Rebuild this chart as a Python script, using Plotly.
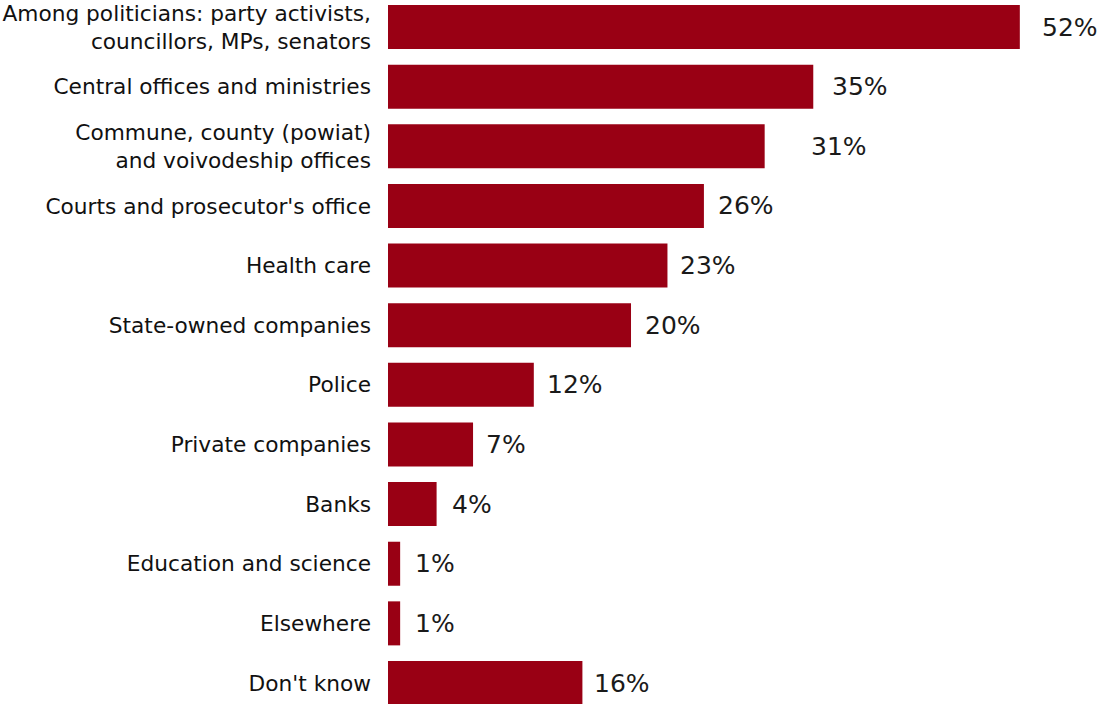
import plotly.graph_objects as go

categories = [
    "Among politicians: party activists,<br>councillors, MPs, senators",
    "Central offices and ministries",
    "Commune, county (powiat)<br>and voivodeship offices",
    "Courts and prosecutor's office",
    "Health care",
    "State-owned companies",
    "Police",
    "Private companies",
    "Banks",
    "Education and science",
    "Elsewhere",
    "Don't know",
]
values = [52, 35, 31, 26, 23, 20, 12, 7, 4, 1, 1, 16]
value_labels = [f"{v}%" for v in values]

# pixel offsets of value labels from bar ends (style)
label_shift = [20, 17, 44, 12, 11, 12, 11, 11, 13, 13, 13, 10]

BAR_COLOR = "#990014"
FONT = "DejaVu Sans, Liberation Sans, Arial, sans-serif"

fig = go.Figure(
    go.Bar(
        x=values,
        y=categories,
        orientation="h",
        marker=dict(color=BAR_COLOR, line=dict(width=0)),
        hoverinfo="skip",
    )
)

for v, lab, cat, s in zip(values, value_labels, categories, label_shift):
    fig.add_annotation(
        x=v, y=cat, xref="x", yref="y", text=lab, showarrow=False,
        xanchor="left", yanchor="middle", xshift=s,
        font=dict(family=FONT, size=25, color="#1a1a1a"),
    )

fig.update_layout(
    width=1101, height=704,
    margin=dict(l=388, r=0, t=0, b=0),
    paper_bgcolor="white", plot_bgcolor="white",
    bargap=0.262,
    showlegend=False,
    font=dict(family=FONT, size=21.7, color="#111111"),
)
fig.update_xaxes(range=[0, 58.68], visible=False, showgrid=False, zeroline=False)
fig.update_yaxes(
    categoryorder="array", categoryarray=categories,
    range=[11.352, -0.4527],
    showgrid=False, zeroline=False, showline=False, ticks="",
    ticklabelstandoff=16,
    tickfont=dict(family=FONT, size=21.7, color="#111111"),
)

fig.write_html("out.html")
